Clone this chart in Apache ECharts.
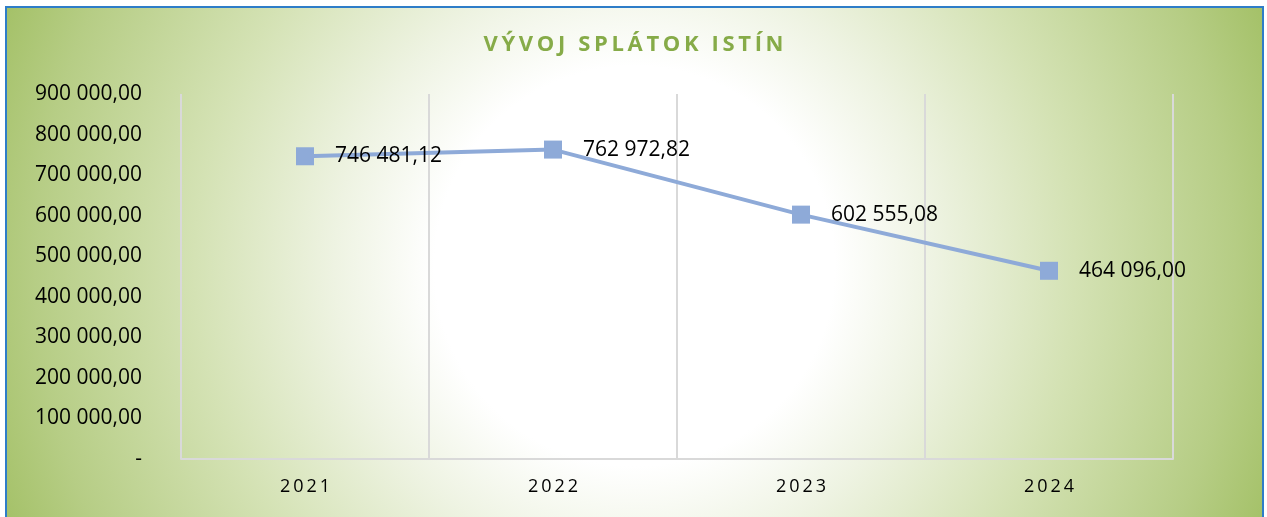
<!DOCTYPE html>
<html>
<head>
<meta charset="utf-8">
<script src="https://cdn.jsdelivr.net/npm/echarts@6/dist/echarts.min.js"></script>
<style>
  html, body { margin: 0; padding: 0; background: #fff; }
  #frame {
    position: absolute; left: 5px; top: 6px; width: 1259px; height: 520px;
    border: 2px solid #2e7dc8; box-sizing: border-box;
    background: radial-gradient(circle 720px at 50% 50%, #ffffff 0px, #ffffff 200px, #eef3e2 300px, #d4e2b4 440px, #b6cd85 600px, #9bbb59 720px);
  }
  #chart { position: absolute; left: 0; top: 0; width: 1267px; height: 517px; }
</style>
</head>
<body>
<div id="frame"></div>
<div id="chart"></div>
<script>
var years = ['2021', '2022', '2023', '2024'];
var splatky = [746481.12, 762972.82, 602555.08, 464096.00];
var yTickLabels = ['-', '100 000,00', '200 000,00', '300 000,00', '400 000,00',
                   '500 000,00', '600 000,00', '700 000,00', '800 000,00', '900 000,00'];
var titleText = 'VÝVOJ SPLÁTOK ISTÍN';

// medzery medzi pismenami (canvas nema letter-spacing)
function spaced(s) {
    return s.split('').join('\u2009');
}

function fmt(v) {
    var parts = v.toFixed(2).split('.');
    return parts[0].replace(/\B(?=(\d{3})+(?!\d))/g, ' ') + ',' + parts[1];
}

var font = '"Open Sans", "DejaVu Sans", sans-serif';

var option = {
    backgroundColor: 'transparent',
    animation: false,
    title: {
        text: spaced(titleText),
        left: 'center',
        top: 29,
        textStyle: {
            fontFamily: font,
            fontSize: 22,
            fontWeight: 'bold',
            color: '#86ab48'
        }
    },
    grid: {
        left: 181,
        right: 94,
        top: 94,
        bottom: 58
    },
    xAxis: {
        type: 'category',
        data: years,
        boundaryGap: true,
        axisLine: { show: true, lineStyle: { color: '#d9d9d9', width: 2 } },
        axisTick: { show: false },
        splitLine: { show: true, lineStyle: { color: '#d9d9d9', width: 2 } },
        axisLabel: {
            margin: 19,
            fontFamily: font,
            fontSize: 18,
            color: '#000',
            formatter: function (v) { return spaced(v); }
        }
    },
    yAxis: {
        type: 'value',
        min: 0,
        max: 900000,
        interval: 100000,
        axisLine: { show: false },
        axisTick: { show: false },
        splitLine: { show: false },
        axisLabel: {
            margin: 39,
            fontFamily: font,
            fontSize: 21,
            color: '#000',
            formatter: function (v) { return yTickLabels[Math.round(v / 100000)]; }
        }
    },
    series: [{
        type: 'line',
        data: splatky,
        symbol: 'rect',
        symbolSize: 18,
        lineStyle: { color: '#8eaad8', width: 4 },
        itemStyle: { color: '#8eaad8' },
        label: {
            show: true,
            position: 'right',
            distance: 21,
            fontFamily: font,
            fontSize: 21,
            color: '#000',
            formatter: function (p) { return fmt(p.value); }
        }
    }]
};

var chart = echarts.init(document.getElementById('chart'));
chart.setOption(option);
window.addEventListener('resize', function () { chart.resize(); });
</script>
</body>
</html>
